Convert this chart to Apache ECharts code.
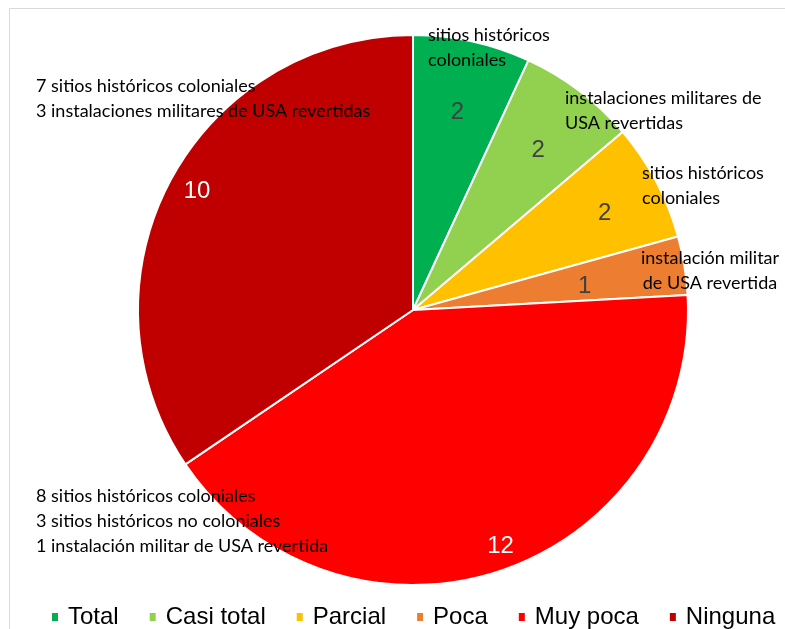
<!DOCTYPE html>
<html>
<head>
<meta charset="utf-8">
<script src="https://cdn.jsdelivr.net/npm/echarts@6/dist/echarts.min.js"></script>
<style>html,body{margin:0;padding:0;background:#fff}#c{width:785px;height:629px}</style>
</head>
<body>
<div id="c"></div>
<script>
const categories = ['Total', 'Casi total', 'Parcial', 'Poca', 'Muy poca', 'Ninguna'];
const values = [2, 2, 2, 1, 12, 10];
const colors = ['#00B050', '#92D050', '#FFC000', '#ED7D31', '#FF0000', '#C00000'];
const valueLabelColors = ['#404040', '#404040', '#404040', '#404040', '#FFFFFF', '#FFFFFF'];
const notes = [
  ['sitios históricos', 'coloniales'],
  ['instalaciones militares de', 'USA revertidas'],
  ['sitios históricos', 'coloniales'],
  ['instalación militar', 'de USA revertida'],
  ['8 sitios históricos coloniales', '3 sitios históricos no coloniales', '1 instalación militar de USA revertida'],
  ['7 sitios históricos coloniales', '3 instalaciones militares de USA revertidas']
];

const CX = 413, CY = 310, R = 275;
const chart = echarts.init(document.getElementById('c'));

// value label rings (radius such that inside label lands at desired distance)
const labelGroups = [
  { idx: [0, 1], dist: 204, dx: 0, dy: 5 },
  { idx: [2], dist: 214, dx: 0, dy: 5 },
  { idx: [3], dist: 171, dx: 0, dy: 5 },
  { idx: [4], dist: 246, dx: 8, dy: 0 },
  { idx: [5], dist: 247, dx: 5, dy: -2 }
];

const labelSeries = labelGroups.map(g => ({
  type: 'pie',
  silent: true,
  center: [CX, CY],
  radius: [0, g.dist * 2],
  startAngle: 90,
  clockwise: true,
  z: 5,
  itemStyle: { color: 'rgba(0,0,0,0)', borderWidth: 0 },
  labelLine: { show: false },
  emphasis: { disabled: true },
  labelLayout: { dx: g.dx, dy: g.dy },
  data: categories.map((c, i) => ({
    name: c,
    value: values[i],
    label: {
      show: g.idx.includes(i),
      position: 'inside',
      formatter: '{c}',
      color: valueLabelColors[i],
      fontFamily: 'Liberation Sans, Arial',
      fontSize: 24
    }
  }))
}));

// annotation text placement (layout only)
const notePos = [
  { left: 428, top: 23, align: 'left' },
  { left: 565, top: 86, align: 'left' },
  { left: 642, top: 161, align: 'left' },
  { left: 710, top: 246, align: 'center' },
  { left: 36, top: 484, align: 'left' },
  { left: 36, top: 74, align: 'left' }
];

const graphics = [{
  type: 'rect', silent: true, z: -10,
  shape: { x: 9.5, y: 8.5, width: 900, height: 700 },
  style: { fill: 'none', stroke: '#D9D9D9', lineWidth: 1 }
}];
notes.forEach((lines, i) => {
  const p = notePos[i];
  graphics.push({
    type: 'text', z: 100,
    x: p.left, y: p.top,
    style: {
      text: lines.join('\n'),
      fill: '#000000',
      font: '18px Lato, "Open Sans", sans-serif',
      lineHeight: 25,
      align: p.align,
      verticalAlign: 'top'
    }
  });
});

chart.setOption({
  animation: false,
  backgroundColor: '#ffffff',
  color: colors,
  legend: {
    data: categories,
    left: 45,
    top: 600,
    width: 740,
    icon: 'rect',
    itemWidth: 8,
    itemHeight: 10,
    itemGap: 29,
    textStyle: { fontFamily: 'Liberation Sans, Arial', fontSize: 24, color: '#000', padding: [0, 0, 0, 4] }
  },
  graphic: graphics,
  series: [{
    type: 'pie',
    center: [CX, CY],
    radius: [0, R],
    startAngle: 90,
    clockwise: true,
    silent: true,
    itemStyle: { borderColor: '#ffffff', borderWidth: 2 },
    label: { show: false },
    labelLine: { show: false },
    data: categories.map((c, i) => ({ name: c, value: values[i] }))
  }].concat(labelSeries)
});
</script>
</body>
</html>
